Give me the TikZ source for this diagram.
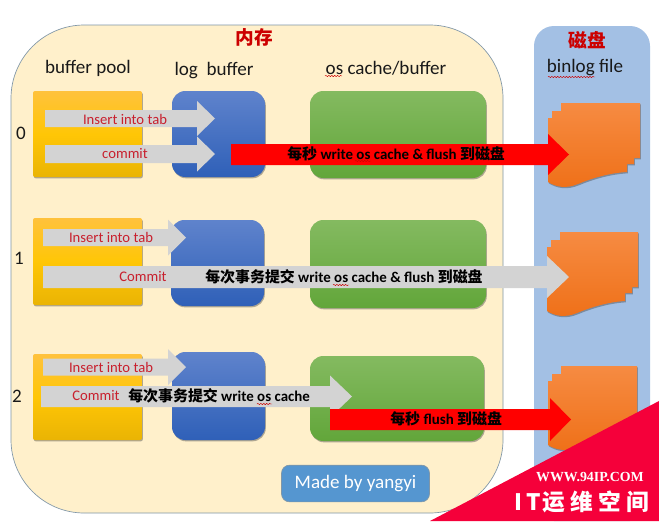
\documentclass[tikz,border=0pt]{standalone}
\usepackage{fontspec}
\setmainfont{Carlito}
\newfontfamily\cjkf{Noto Sans CJK SC}
\newfontfamily\wmf{Liberation Serif}
\usetikzlibrary{shadows,decorations.pathmorphing}
\definecolor{creamc}{HTML}{FFF0CB}
\definecolor{panelc}{HTML}{A3C0E4}
\definecolor{labred}{HTML}{C8202E}
\definecolor{greyc}{HTML}{D3D3D3}
\definecolor{markred}{HTML}{F5003A}
\definecolor{madec}{HTML}{5596D0}
\definecolor{framec}{HTML}{7F96A8}
\definecolor{yc1}{HTML}{FFC23C}\definecolor{yc2}{HTML}{EAB404}\definecolor{yc3}{HTML}{FFC606}
\definecolor{bc1}{HTML}{5F83CC}\definecolor{bc2}{HTML}{2F60B8}
\definecolor{gc1}{HTML}{84BA60}\definecolor{gc2}{HTML}{62A63A}
\definecolor{oc1}{HTML}{F68B42}\definecolor{oc2}{HTML}{EF7018}
\tikzset{
  x=0.75pt,y=-0.75pt,
  softdrop/.style={drop shadow={shadow xshift=0.6pt,shadow yshift=-1pt,opacity=.45,fill=black!70}},
  yellowbox/.style={softdrop,rounded corners=1.5pt,top color=yc1,bottom color=yc2,middle color=yc3},
  bluebox/.style={softdrop,rounded corners=10pt,top color=bc1,bottom color=bc2},
  greenbox/.style={softdrop,rounded corners=10pt,top color=gc1,bottom color=gc2},
  docshape/.style={softdrop,top color=oc1,bottom color=oc2},
  heading/.style={font=\fontsize{14.3}{16}\selectfont,text=black!90},
  redtitle/.style={font=\fontsize{14}{16}\cjkf\bfseries,text=red!80!black},
  insertlab/.style={font=\fontsize{11}{13}\selectfont,text=labred},
  blacklab/.style={font=\fontsize{11.2}{13}\selectfont\bfseries,text=black,anchor=west,inner sep=0pt},
  squig/.style={draw=red!80!black,line width=.35pt,decorate,decoration={snake,amplitude=.5pt,segment length=2.2pt}},
}
% x-start, head base x, tip x, y centre, half shaft, half head, colour
\newcommand{\blockarrow}[7]{\fill[#7] (#1,#4-#5) -- (#2,#4-#5) -- (#2,#4-#6) -- (#3,#4) -- (#2,#4+#6) -- (#2,#4+#5) -- (#1,#4+#5) -- cycle;}
% document shape offset by x and y
\newcommand{\docfile}[3]{\begin{scope}[shift={(#1,#2)}]
 \path[docshape] (13,0) -- (#3,0) -- (#3,55) -- (#3-6,55) -- (#3-6,61) -- (#3-13,61) -- (#3-13,69)
   .. controls (60,70) and (42,76) .. (30,81) .. controls (18,86) and (8,84) .. (0,79)
   -- (0,15) -- (4,15) -- (4,8) -- (13,8) -- cycle;
\end{scope}}
\begin{document}
\begin{tikzpicture}
\useasboundingbox (0,0) rectangle (659,521);
\fill[white] (0,0) rectangle (659,521);
% containers
\path[fill=creamc,draw=framec,line width=.5pt,rounded corners=55pt] (11,25) rectangle (503,513);
\path[fill=panelc,rounded corners=15pt] (534,26) -- (650,26) -- (650,521) -- (534,521) -- cycle;
% row boxes
\path[yellowbox] (33,91) rectangle (142,177);
\path[yellowbox] (33,218) rectangle (142,305);
\path[yellowbox] (33,354) rectangle (142,440);
\path[bluebox] (172,91) rectangle (265,177);
\path[bluebox] (171,220) rectangle (264,306);
\path[bluebox] (172,352) rectangle (265,440);
\path[greenbox] (310,91) rectangle (486,178);
\path[greenbox] (310,220) rectangle (486,308);
\path[greenbox] (310,356) rectangle (484,441);
% binlog files
\docfile{548}{103}{92}
\docfile{547}{232}{91}
\docfile{548}{366}{89}
% headings
\node[redtitle] (mem) at (254,37) {内存};
\node[redtitle] (disk) at (587,40) {磁盘};
\node[heading] (bp) at (88,68) {buffer pool};
\node[heading] (lb) at (214,71) {log\ \ buffer};
\node[heading] (oc) at (386,68) {os cache/buffer};
\node[heading] (bf) at (585,68) {binlog file};
\node[heading] (r0) at (21,133) {0};
\node[heading] (r1) at (19,258) {1};
\node[heading] (r2) at (17,396) {2};
% row 0
\blockarrow{45}{197}{215}{118.5}{8.5}{17.5}{greyc}
\blockarrow{45}{197}{215}{154}{9}{17.5}{greyc}
\blockarrow{231}{548}{569}{154.5}{10.5}{20.5}{red}
\node[insertlab] (a1) at (125,119) {Insert into tab};
\node[insertlab] (a2) at (125,154) {commit};
\node[blacklab] (a3) at (287,154) {{\cjkf 每秒} write os cache \& flush {\cjkf 到磁盘}};
% row 1
\blockarrow{43}{168}{186}{237.5}{8.5}{18}{greyc}
\blockarrow{43}{547}{569}{277}{11}{21}{greyc}
\node[insertlab] (b1) at (111,237) {Insert into tab};
\node[insertlab] (b2) at (143,277) {Commit};
\node[blacklab] (b3) at (205,277) {{\cjkf 每次事务提交} write os cache \& flush {\cjkf 到磁盘}};
% row 2
\blockarrow{43}{168}{186}{367}{8.5}{18}{greyc}
\blockarrow{41}{330}{352}{396.5}{10.5}{21}{greyc}
\blockarrow{330}{550}{571}{419.5}{10.5}{21.5}{red}
\node[insertlab] (c1) at (111,367) {Insert into tab};
\node[insertlab] (c2) at (96,396) {Commit};
\node[blacklab] (c3) at (128,396) {{\cjkf 每次事务提交} write os cache};
\node[blacklab] (c4) at (390,419) {{\cjkf 每秒} flush {\cjkf 到磁盘}};
% spelling marks
\coordinate (s1a) at (325,76);\coordinate (s1b) at (342,76);
\coordinate (s2a) at (548,77);\coordinate (s2b) at (595,77);
\coordinate (s3a) at (355,161);\coordinate (s3b) at (371,161);
\coordinate (s4a) at (333,285);\coordinate (s4b) at (349,285);
\coordinate (s5a) at (257,404);\coordinate (s5b) at (272,404);
\coordinate (s6a) at (372,497);\coordinate (s6b) at (417,497);
\foreach \a/\b in {s1a/s1b,s2a/s2b,s3a/s3b,s4a/s4b,s5a/s5b,s6a/s6b}{\path[squig] (\a) -- (\b);}
% credit
\node[draw=framec,line width=.5pt,fill=madec,rounded corners=6pt,minimum width=111pt,minimum height=27.5pt,text=white,font=\fontsize{14.3}{16}\selectfont,inner sep=0pt] (made) at (355.5,483.5) {Made by yangyi};
% watermark
\fill[markred] (659,401) -- (659,521) -- (430,521) -- cycle;
\node[text=white,font=\fontsize{10.4}{12}\wmf\bfseries,inner sep=0pt] (w1) at (590,477) {WWW.94IP.COM};
\node[text=white,font=\fontsize{17}{20}\cjkf\bfseries,inner sep=0pt] (w2) at (581.5,502) {I\hspace{3pt}T\hspace{1pt}运\hspace{4pt}维\hspace{4pt}空\hspace{4pt}间};
\end{tikzpicture}
\end{document}
